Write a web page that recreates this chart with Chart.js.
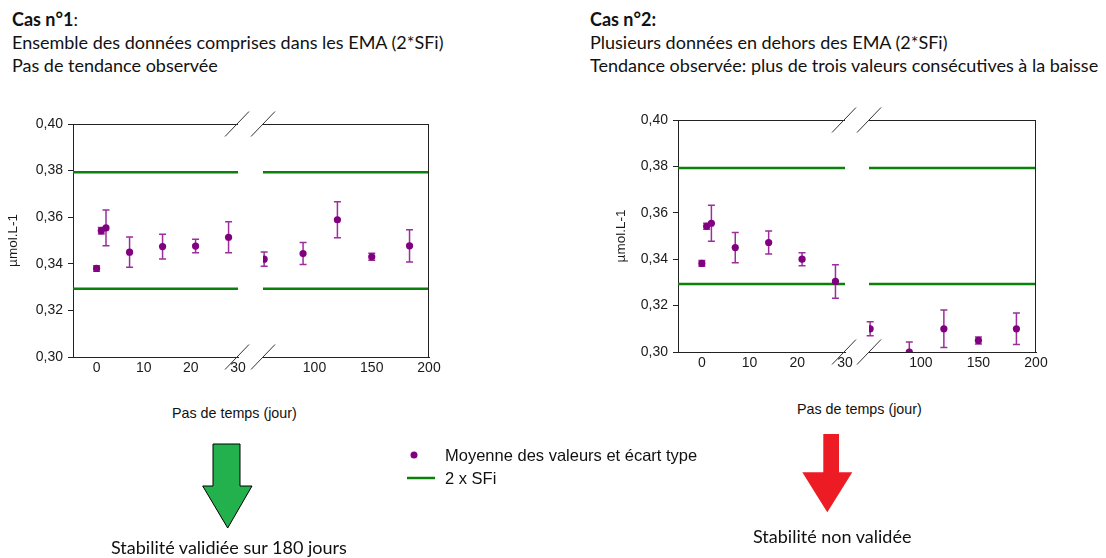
<!DOCTYPE html>
<html><head><meta charset="utf-8">
<script src="https://cdn.jsdelivr.net/npm/chart.js@4.4.1/dist/chart.umd.min.js"></script>
<style>
html,body{margin:0;padding:0;background:#fff;}
body{width:1106px;height:558px;position:relative;overflow:hidden;}
.t{position:absolute;white-space:nowrap;font-family:Lato,"Open Sans",sans-serif;font-size:18px;color:#111;line-height:23px;}
.a{position:absolute;white-space:nowrap;font-family:"Liberation Sans",Arial,sans-serif;color:#111;}
canvas{position:absolute;}
</style></head>
<body>
<div class="t" style="left:12px;top:8px;"><b>Cas n°1</b>:<br>Ensemble des données comprises dans les EMA (2*SFi)<br>Pas de tendance observée</div>
<div class="t" style="left:590px;top:8px;"><b>Cas n°2:</b><br>Plusieurs données en dehors des EMA (2*SFi)<br>Tendance observée: plus de trois valeurs consécutives à la baisse</div>

<canvas id="c1" width="445" height="267" style="left:0px;top:110px;"></canvas>
<canvas id="c2" width="455" height="267" style="left:600px;top:105px;"></canvas>

<div class="a" style="left:172px;top:404px;font-size:14.3px;line-height:18px;">Pas de temps (jour)</div>
<div class="a" style="left:797px;top:400px;font-size:14.3px;line-height:18px;">Pas de temps (jour)</div>

<svg style="position:absolute;left:0;top:0;" width="1106" height="558">
  <circle cx="414" cy="455" r="3.5" fill="#800080"/>
  <line x1="407" y1="478" x2="435" y2="478" stroke="#0b800b" stroke-width="2.5"/>
  <polygon points="213,444 240,444 240,486 252,486 227.7,528 202.7,486 213,486" fill="#22b14c" stroke="#000" stroke-width="1"/>
  <polygon points="823.3,434 839,434 839,472.3 852.3,472.3 827.3,512.3 802.3,472.3 823.3,472.3" fill="#ed1c24"/>
</svg>
<div class="a" style="left:445px;top:445px;font-size:16.5px;line-height:20px;">Moyenne des valeurs et écart type</div>
<div class="a" style="left:445px;top:468px;font-size:16.5px;line-height:20px;">2 x SFi</div>

<div class="t" style="left:111px;top:536px;">Stabilité validiée sur 180 jours</div>
<div class="t" style="left:753px;top:525px;">Stabilité non validée</div>

<script>
// ---- data ----
const days = [0, 1, 2, 7, 14, 21, 28, 56, 90, 120, 150, 183];
const case1Mean = [0.3380, 0.3542, 0.3554, 0.3450, 0.3474, 0.3476, 0.3514, 0.3420, 0.3444, 0.3589, 0.3430, 0.3477];
const case1Sd   = [0.0012, 0.0014, 0.0077, 0.0065, 0.0053, 0.0029, 0.0067, 0.0031, 0.0047, 0.0077, 0.0015, 0.0069];
const case2Mean = [0.3382, 0.3542, 0.3555, 0.3450, 0.3472, 0.3400, 0.3304, 0.3100, 0.3000, 0.3100, 0.3050, 0.3100];
const case2Sd   = [0.0012, 0.0013, 0.0078, 0.0065, 0.0050, 0.0028, 0.0072, 0.0030, 0.0043, 0.0081, 0.0015, 0.0068];
const sfiUpper = 0.3793;
const sfiLower = 0.3293;
const earlyRange = [-5, 30];
const lateRange = [55, 200];
const earlyTicks = [0, 10, 20, 30];
const lateTicks = [100, 150, 200];
const yRange = [0.30, 0.40];
const yStep = 0.02;
const breakDay = 30;

const FRAME = '#222';
const TICKFONT = {family: '"Liberation Sans", Arial, sans-serif', size: 14};

const errorBars = {
  id: 'errorBars',
  beforeDatasetDraw(chart, args) {
    const ds = chart.data.datasets[args.index];
    if (!ds.sd) return;
    const meta = args.meta;
    const ys = chart.scales.y;
    const ca = chart.chartArea;
    const ctx = chart.ctx;
    ctx.save();
    ctx.beginPath();
    ctx.rect(ca.left, ca.top, ca.right - ca.left, ca.bottom - ca.top);
    ctx.clip();
    ctx.strokeStyle = '#9b2f9b';
    ctx.lineWidth = 1.5;
    meta.data.forEach((pt, i) => {
      const v = ds.data[i].y, s = ds.sd[i];
      const x = pt.x;
      const y1 = ys.getPixelForValue(v + s), y2 = ys.getPixelForValue(v - s);
      ctx.beginPath();
      ctx.moveTo(x, y1); ctx.lineTo(x, y2);
      ctx.moveTo(x - 3.5, y1); ctx.lineTo(x + 3.5, y1);
      ctx.moveTo(x - 3.5, y2); ctx.lineTo(x + 3.5, y2);
      ctx.stroke();
    });
    ctx.restore();
  }
};

const frame = {
  id: 'frame',
  afterDraw(chart) {
    const ctx = chart.ctx;
    const ca = chart.chartArea;
    const xe = chart.scales.xEarly, xl = chart.scales.xLate;
    ctx.save();
    ctx.strokeStyle = FRAME;
    ctx.lineWidth = 1;
    ctx.beginPath();
    ctx.moveTo(ca.left, ca.top + 0.5); ctx.lineTo(xe.right, ca.top + 0.5);
    ctx.moveTo(xl.left, ca.top + 0.5); ctx.lineTo(ca.right, ca.top + 0.5);
    ctx.moveTo(ca.right - 0.5, ca.top); ctx.lineTo(ca.right - 0.5, ca.bottom);
    ctx.stroke();
    ctx.strokeStyle = '#333';
    ctx.beginPath();
    [xe.right - 1, xl.left].forEach(bx => {
      [ca.top, ca.bottom].forEach(by => {
        ctx.moveTo(bx - 12, by + 12.5); ctx.lineTo(bx + 12, by - 12.5);
      });
    });
    ctx.stroke();
    ctx.restore();
  }
};

function makeChart(id, mean, sd, g) {
  const pts = days.map((d, i) => ({x: d, y: mean[i], s: sd[i]}));
  const early = pts.filter(p => p.x <= breakDay);
  const late = pts.filter(p => p.x > breakDay);
  const pointDs = (arr, axis) => ({
    type: 'scatter', xAxisID: axis, yAxisID: 'y', order: 1,
    data: arr.map(p => ({x: p.x, y: p.y})), sd: arr.map(p => p.s),
    pointRadius: 3.6, pointBackgroundColor: '#800080', pointBorderColor: '#800080', pointBorderWidth: 0
  });
  const lineDs = (range, val, axis) => ({
    type: 'line', xAxisID: axis, yAxisID: 'y', order: 2,
    data: [{x: range[0], y: val}, {x: range[1], y: val}],
    borderColor: '#0b800b', borderWidth: 2.6, pointRadius: 0, fill: false
  });
  const xAxis = (range, ticks, weight) => ({
    type: 'linear', position: 'bottom', stack: 'x', stackWeight: weight,
    min: range[0], max: range[1],
    afterBuildTicks: s => { s.ticks = ticks.map(v => ({value: v})); },
    afterFit: s => { s.height = 20; },
    grid: {display: false, drawTicks: false},
    border: {display: true, color: FRAME, width: 1},
    ticks: {autoSkip: false, maxRotation: 0, padding: 3, color: '#1a1a1a', font: TICKFONT}
  });
  return new Chart(document.getElementById(id), {
    data: {
      datasets: [
        lineDs(earlyRange, sfiUpper, 'xEarly'), lineDs(earlyRange, sfiLower, 'xEarly'),
        lineDs(lateRange, sfiUpper, 'xLate'), lineDs(lateRange, sfiLower, 'xLate'),
        pointDs(early, 'xEarly'), pointDs(late, 'xLate')
      ]
    },
    options: {
      responsive: false, animation: false, devicePixelRatio: 1,
      layout: {padding: {top: g.top, right: g.right, left: 0, bottom: 0}},
      plugins: {legend: {display: false}, tooltip: {enabled: false}},
      scales: {
        y: {
          type: 'linear', position: 'left', min: yRange[0], max: yRange[1],
          afterFit: s => { s.width = g.yw; },
          ticks: {stepSize: yStep, padding: 5, color: '#1a1a1a', font: TICKFONT,
                  callback: v => v.toFixed(2).replace('.', ',')},
          grid: {display: true, drawOnChartArea: false, drawTicks: true, tickLength: 5, color: FRAME},
          border: {display: true, color: FRAME, width: 1},
          title: {display: true, text: 'µmol.L-1', color: '#1a1a1a',
                  font: {family: '"Liberation Sans", Arial, sans-serif', size: 13.5},
                  padding: {top: g.tp, bottom: 0}}
        },
        xEarly: xAxis(earlyRange, earlyTicks, g.w1),
        xGap: {
          type: 'linear', position: 'bottom', stack: 'x', stackWeight: g.wg,
          afterFit: s => { s.height = 20; },
          grid: {display: false}, border: {display: false}, ticks: {display: false}
        },
        xLate: xAxis(lateRange, lateTicks, g.w2)
      }
    },
    plugins: [errorBars, frame]
  });
}

makeChart('c1', case1Mean, case1Sd, {top: 14, right: 16, yw: 73, tp: 5, w1: 165, wg: 25, w2: 166});
makeChart('c2', case2Mean, case2Sd, {top: 15, right: 19, yw: 78, tp: 13.5, w1: 167, wg: 24, w2: 167});
</script>
</body></html>
